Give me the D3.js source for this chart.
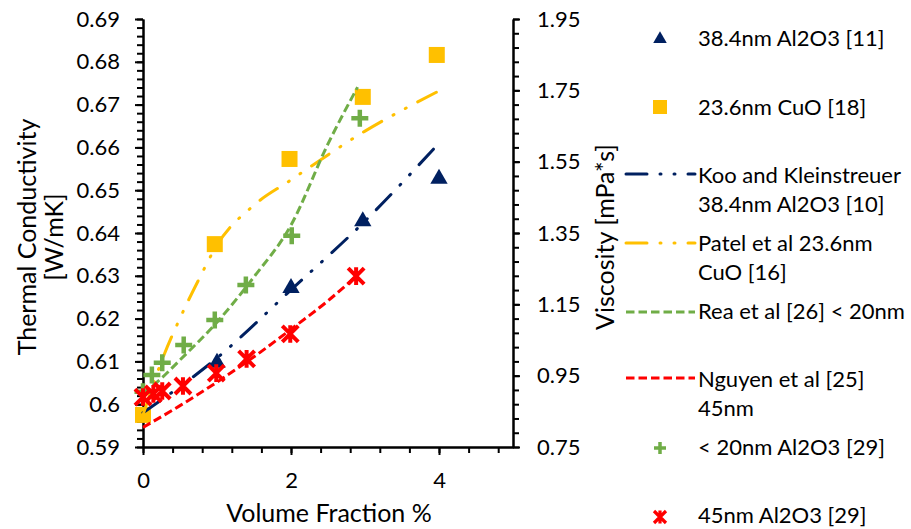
<!DOCTYPE html>
<html><head><meta charset="utf-8">
<script src="https://cdn.jsdelivr.net/npm/d3@7"></script>
<style>body{margin:0;background:#fff}svg{display:block}text{font-family:Lato,"Noto Sans",sans-serif;fill:#000}</style>
</head><body>
<svg id="c" width="911" height="529"></svg>
<script>
// ---- data (volume fraction %, thermal conductivity W/mK or viscosity mPa*s) ----
const triFrac = [1, 2, 2.97, 4];
const triK = [0.6099, 0.6274, 0.6430, 0.6529];
const sqFrac = [0, 0.97, 1.98, 2.97, 3.97];
const sqK = [0.5975, 0.6374, 0.6573, 0.6718, 0.6816];
const kooFrac = [0, 1, 2, 3, 4];
const kooK = [0.5980, 0.6108, 0.6267, 0.6428, 0.6610];
const patelFrac = [0, 0.25, 0.5, 0.75, 1, 1.5, 2, 3, 4];
const patelK = [0.5975, 0.6100, 0.6201, 0.6290, 0.6372, 0.6465, 0.6524, 0.6638, 0.6732];
const reaFrac = [0, 0.25, 0.5, 1, 1.5, 2, 2.5, 2.9];
const reaMu = [0.901, 0.943, 0.994, 1.100, 1.227, 1.372, 1.600, 1.759];
const nguyenFrac = [0, 0.5, 1, 1.5, 2, 2.5, 2.9];
const nguyenMu = [0.805, 0.866, 0.932, 1.003, 1.080, 1.160, 1.232];
const plusFrac = [0, 0.12, 0.26, 0.55, 0.97, 1.39, 2.01, 2.93];
const plusMu = [0.905, 0.952, 0.986, 1.036, 1.106, 1.204, 1.342, 1.672];
const starFrac = [0, 0.14, 0.26, 0.54, 0.99, 1.4, 1.99, 2.88];
const starMu = [0.890, 0.899, 0.907, 0.921, 0.957, 0.997, 1.067, 1.229];
const xTicks = [0, 2, 4];
const yLeftTicks = [0.59, 0.6, 0.61, 0.62, 0.63, 0.64, 0.65, 0.66, 0.67, 0.68, 0.69];
const yRightTicks = [0.75, 0.95, 1.15, 1.35, 1.55, 1.75, 1.95];
const legendLabels = [
  ["38.4nm Al2O3 [11]"], ["23.6nm CuO [18]"], ["Koo and Kleinstreuer", "38.4nm Al2O3 [10]"],
  ["Patel et al 23.6nm", "CuO [16]"], ["Rea et al [26] < 20nm"], ["Nguyen et al [25]", "45nm"],
  ["< 20nm Al2O3 [29]"], ["45nm Al2O3 [29]"]];

const NAVY = "#002060", ORANGE = "#FFC000", GREEN = "#70AD47", RED = "#FF0000";
const svg = d3.select("#c");
const x = d3.scaleLinear().domain([0, 5]).range([143, 513]);
const yL = d3.scaleLinear().domain([0.59, 0.69]).range([447, 19]);
const yR = d3.scaleLinear().domain([0.75, 1.95]).range([447, 19]);
const zip = (a, b) => a.map((v, i) => [v, b[i]]);

// axes
const fs = 22, fsT = 25;
function styleAxis(g) {
  g.selectAll(".domain").attr("stroke", "#000").attr("stroke-width", 2);
  g.selectAll(".tick line").attr("stroke", "#000").attr("stroke-width", 2);
  g.selectAll("text").style("font-size", fs + "px").style("font-family", "Lato").attr("fill", "#000");
}
const trim = d => String(+d.toFixed(2));
// minor ticks
const minorL = d3.range(0.59, 0.6901, 0.002);
const minorR = d3.range(0.75, 1.9501, 0.04);
const minorX = d3.range(0, 4.81, 0.4);
svg.append("g").attr("transform", "translate(143,0)")
  .call(d3.axisLeft(yL).tickValues(minorL).tickSize(6).tickFormat("").tickSizeOuter(0)).call(styleAxis);
svg.append("g").attr("transform", "translate(143,0)")
  .call(d3.axisLeft(yL).tickValues(yLeftTicks).tickSize(8).tickPadding(15).tickFormat(trim).tickSizeOuter(0)).call(styleAxis);
svg.append("g").attr("transform", "translate(513,0)")
  .call(d3.axisRight(yR).tickValues(minorR).tickSize(6).tickFormat("").tickSizeOuter(0)).call(styleAxis);
svg.append("g").attr("transform", "translate(513,0)")
  .call(d3.axisRight(yR).tickValues(yRightTicks).tickSize(7).tickPadding(17).tickFormat(d3.format(".2f")).tickSizeOuter(0)).call(styleAxis);
svg.append("g").attr("transform", "translate(0,447)")
  .call(d3.axisBottom(x).tickValues(minorX).tickSize(6).tickFormat("").tickSizeOuter(0)).call(styleAxis);
svg.append("g").attr("transform", "translate(0,447)")
  .call(d3.axisBottom(x).tickValues(xTicks).tickSize(8).tickPadding(17).tickFormat(d3.format("d")).tickSizeOuter(0)).call(styleAxis);

// axis titles
svg.append("text").attr("x", 329).attr("y", 522).attr("text-anchor", "middle").style("font-size", fsT + "px").text("Volume Fraction %");
svg.append("text").attr("transform", "translate(36,237) rotate(-90)").attr("text-anchor", "middle").style("font-size", fsT + "px").text("Thermal Conductivity");
svg.append("text").attr("transform", "translate(63,237) rotate(-90)").attr("text-anchor", "middle").style("font-size", fsT + "px").text("[W/mK]");
svg.append("text").attr("transform", "translate(614,237) rotate(-90)").attr("text-anchor", "middle").style("font-size", fsT + "px").text("Viscosity [mPa*s]");

// styles
const DDD = "21,13,1,13,1,13", DASH = "8.5,4";
function drawLine(data, yS, color, dash, cap) {
  svg.append("path").datum(data)
    .attr("d", d3.line().x(d => x(d[0])).y(d => yS(d[1])).curve(d3.curveMonotoneX))
    .attr("fill", "none").attr("stroke", color).attr("stroke-width", 3)
    .attr("stroke-dasharray", dash).attr("stroke-linecap", cap);
}
function plusPath(s, t) { const a = s / 2, b = t / 2;
  return `M${-a},${-b}H${-b}V${-a}H${b}V${-b}H${a}V${b}H${b}V${a}H${-b}V${b}H${-a}Z`; }
function starG(sel, s, w) {
  const a = s / 2;
  sel.append("path").attr("d", `M${-a},${-a}L${a},${a}M${-a},${a}L${a},${-a}M0,${-a * 1.1}L0,${a * 1.1}`)
    .attr("stroke", RED).attr("stroke-width", w).attr("fill", "none");
}

// primary axis series
svg.append("g").selectAll("path").data(zip(triFrac, triK)).join("path")
  .attr("transform", d => `translate(${x(d[0])},${yL(d[1]) + 1})`)
  .attr("d", d3.symbol(d3.symbolTriangle, 130)).attr("fill", NAVY);
svg.append("g").selectAll("rect").data(zip(sqFrac, sqK)).join("rect")
  .attr("x", d => x(d[0]) - 8).attr("y", d => yL(d[1]) - 8).attr("width", 16).attr("height", 16).attr("fill", ORANGE);
drawLine(zip(kooFrac, kooK), yL, NAVY, DDD, "round");
drawLine(zip(patelFrac, patelK), yL, ORANGE, DDD, "round");
// secondary axis series
drawLine(zip(reaFrac, reaMu), yR, GREEN, DASH, "butt");
drawLine(zip(nguyenFrac, nguyenMu), yR, RED, DASH, "butt");
svg.append("g").selectAll("path").data(zip(plusFrac, plusMu)).join("path")
  .attr("transform", d => `translate(${x(d[0])},${yR(d[1])})`)
  .attr("d", plusPath(17, 4.5)).attr("fill", GREEN);
svg.append("g").selectAll("g").data(zip(starFrac, starMu)).join("g")
  .attr("transform", d => `translate(${x(d[0])},${yR(d[1])})`)
  .each(function () { starG(d3.select(this), 16, 4); });

// legend
const lg = svg.append("g");
const tx = 698;
lg.append("path").attr("transform", "translate(660,39)").attr("d", d3.symbol(d3.symbolTriangle, 80)).attr("fill", NAVY);
lg.append("rect").attr("x", 653).attr("y", 100).attr("width", 14).attr("height", 14).attr("fill", ORANGE);
const lines = [[174, NAVY, DDD, "round"], [243, ORANGE, DDD, "round"], [312, GREEN, DASH, "butt"], [378, RED, DASH, "butt"]];
lines.forEach(([yy, c, d, cap]) => lg.append("line").attr("x1", 626).attr("x2", 695).attr("y1", yy).attr("y2", yy)
  .attr("stroke", c).attr("stroke-width", 3).attr("stroke-dasharray", d).attr("stroke-linecap", cap));
lg.append("path").attr("transform", "translate(660,448)").attr("d", plusPath(12, 3.5)).attr("fill", GREEN);
starG(lg.append("g").attr("transform", "translate(660,517)"), 12, 3.2);
const textY = [[38], [107], [175, 204], [243, 272], [311], [379, 408], [447], [515]];
legendLabels.forEach((lab, i) => lab.forEach((t, j) =>
  lg.append("text").attr("x", tx).attr("y", textY[i][j]).attr("dy", "0.35em").style("font-size", fs + "px").text(t)));
</script>
</body></html>
